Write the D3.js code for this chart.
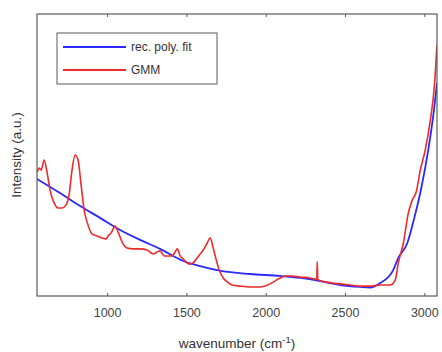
<!DOCTYPE html>
<html><head><meta charset="utf-8">
<script src="https://cdn.jsdelivr.net/npm/d3@7"></script>
<style>body{margin:0;background:#fff}svg{display:block}text{font-family:"Liberation Sans",Arial,sans-serif}</style>
</head><body><svg id="c" width="442" height="352"></svg>
<script>
const xTicks = [1000, 1500, 2000, 2500, 3000];
const seriesNames = ["rec. poly. fit", "GMM"];
const gmmWn = [560,571,584,603,621,640,666,691,716,741,760,779,798,817,836,855,874,905,937,968,994,1006,1025,1050,1069,1095,1126,1164,1208,1252,1290,1315,1334,1360,1385,1410,1429,1442,1461,1480,1505,1524,1549,1568,1587,1606,1631,1650,1669,1688,1707,1732,1757,1789,1839,1902,1965,2028,2079,2123,2167,2218,2281,2312,2322,2325,2328,2331,2375,2420,2470,2533,2596,2659,2722,2785,2817,2836,2868,2899,2924,2949,2975,3006,3038,3063,3080];
const gmmVal = [44.0,45.4,44.7,48.2,44.0,37.6,33.0,31.2,31.2,32.3,35.8,44.7,50.0,48.2,39.4,30.5,26.2,22.0,21.3,20.6,20.2,21.3,22.3,24.8,22.7,19.1,17.0,16.7,16.7,16.3,14.9,15.6,16.0,14.2,14.2,14.2,15.6,16.7,14.2,13.1,11.7,11.3,12.1,13.5,14.9,16.3,18.8,20.6,17.0,12.8,9.2,6.4,5.0,3.9,3.5,3.2,3.2,4.3,6.0,7.1,7.1,6.7,6.4,6.0,6.0,12.1,6.0,5.7,5.0,4.6,4.3,3.9,3.5,3.5,3.9,3.9,5.7,11.7,18.8,29.4,34.0,36.9,44.7,51.8,62.4,74.1,89.0];
const polyWn = [558,703,830,956,1082,1208,1334,1480,1587,1719,1902,2091,2218,2344,2470,2596,2659,2722,2804,2836,2893,2937,2981,3025,3057,3080];
const polyVal = [41.5,36.5,31.9,27.7,23.4,19.9,16.7,12.4,10.6,8.9,7.8,7.1,6.4,5.3,3.9,3.2,3.0,4.6,9.2,13.5,18.8,27.7,38.3,51.8,64.2,75.5];

const svg = d3.select("#c");
const L = 37, R = 437, T = 14, B = 296;
const x = d3.scaleLinear().domain([558, 3080]).range([L, R]);
const y = d3.scaleLinear().domain([0, 100]).range([B, T]);
const frame = "#5a5a5a";

const line = d3.line().x(d => x(d[0])).y(d => y(d[1])).curve(d3.curveMonotoneX);
svg.append("clipPath").attr("id","cp").append("rect").attr("x",L).attr("y",T).attr("width",R-L).attr("height",B-T);
const g = svg.append("g").attr("clip-path","url(#cp)");
g.append("path").datum(polyWn.map((w,i)=>[w,polyVal[i]])).attr("d", line)
  .attr("fill","none").attr("stroke","#2a2aff").attr("stroke-width",1.8);
g.append("path").datum(gmmWn.map((w,i)=>[w,gmmVal[i]]))
  .attr("d", d3.line().x(d=>x(d[0])).y(d=>y(d[1])).curve(d3.curveMonotoneX))
  .attr("fill","none").attr("stroke","#ee2a2a").attr("stroke-width",1.6).attr("stroke-linejoin","round");

svg.append("rect").attr("x",L).attr("y",T).attr("width",R-L).attr("height",B-T)
  .attr("fill","none").attr("stroke",frame).attr("stroke-width",1.2);

const xb = svg.append("g").attr("transform",`translate(0,${B})`)
  .call(d3.axisBottom(x).tickValues(xTicks).tickFormat(d3.format("d")).tickSize(-3).tickPadding(10));
const xt = svg.append("g").attr("transform",`translate(0,${T})`)
  .call(d3.axisTop(x).tickValues(xTicks).tickSize(-3).tickFormat(""));
[xb, xt].forEach(a => { a.select(".domain").remove(); a.selectAll("line").attr("stroke",frame); });
xb.selectAll("text").attr("font-size",12.5).attr("fill","#444").attr("dy","0.9em");

svg.append("text").attr("x",(L+R)/2).attr("y",348).attr("text-anchor","middle")
  .attr("font-size",13.5).attr("fill","#333")
  .call(t => { t.append("tspan").text("wavenumber (cm");
    t.append("tspan").attr("dy",-5).attr("font-size",9.5).text("-1");
    t.append("tspan").attr("dy",5).text(")"); });
svg.append("text").attr("transform",`translate(21,${(T+B)/2}) rotate(-90)`).attr("text-anchor","middle")
  .attr("font-size",13.5).attr("fill","#333").text("Intensity (a.u.)");

const lg = svg.append("g");
lg.append("rect").attr("x",57).attr("y",33).attr("width",160).attr("height",51)
  .attr("fill","#fff").attr("stroke",frame).attr("stroke-width",1);
const colors = ["#2a2aff","#ee2a2a"];
seriesNames.forEach((n,i) => {
  const yy = 47 + i*23;
  lg.append("line").attr("x1",63).attr("x2",126).attr("y1",yy).attr("y2",yy)
    .attr("stroke",colors[i]).attr("stroke-width",1.8);
  lg.append("text").attr("x",131).attr("y",yy).attr("dy","0.35em").attr("font-size",12)
    .attr("fill","#333").text(n);
});
</script></body></html>
